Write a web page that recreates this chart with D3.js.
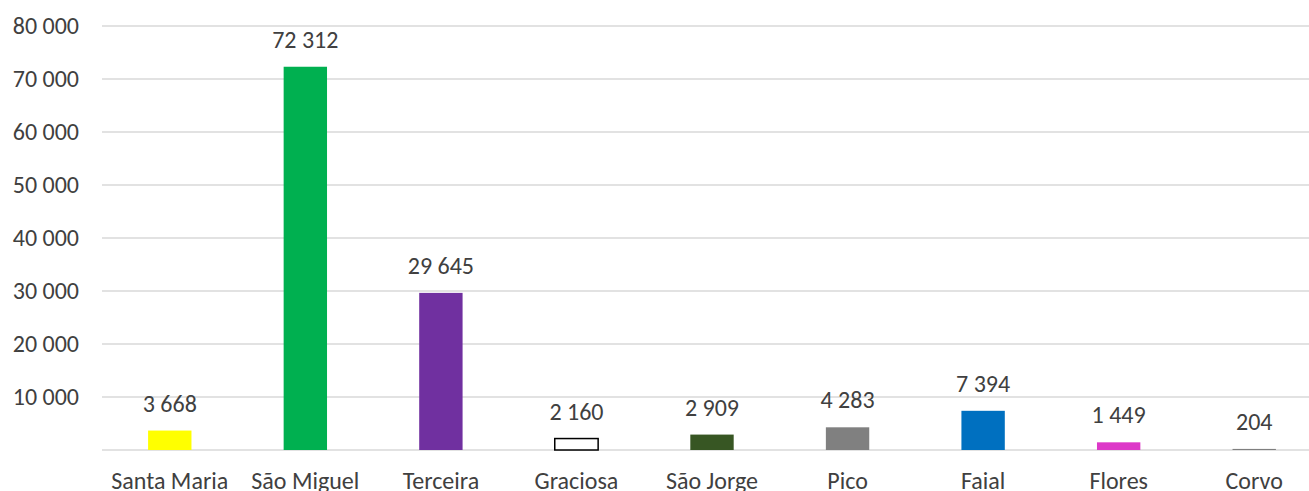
<!DOCTYPE html>
<html>
<head>
<meta charset="utf-8">
<script src="https://cdn.jsdelivr.net/npm/d3@7"></script>
<style>
  body { margin: 0; background: #fff; overflow: hidden; }
  text { font-family: Calibri, Carlito, "Open Sans", sans-serif; fill: #404040; }
</style>
</head>
<body>
<script>
const width = 1309,
  height = 491;

const margin = { top: 26, right: 0, bottom: 41, left: 102 };
const innerWidth = width - margin.left - margin.right;
const innerHeight = height - margin.top - margin.bottom;
// the plot area runs a little past the right edge of the picture
const bandRange = 1220;

// data
const islands = ["Santa Maria", "São Miguel", "Terceira", "Graciosa", "São Jorge", "Pico", "Faial", "Flores", "Corvo"];
const values = [3668, 72312, 29645, 2160, 2909, 4283, 7394, 1449, 204];
const barColors = ["#FFFF00", "#00B050", "#7030A0", "#FFFFFF", "#375623", "#808080", "#0070C0", "#DD38C8", "#7f7f7f"];
const yTicks = [10000, 20000, 30000, 40000, 50000, 60000, 70000, 80000];

const fmt = v => d3.format(",")(v).replace(/,/g, " ");
const fontSize = 24;

const data = islands.map((name, i) => ({ name, value: values[i], color: barColors[i] }));

const svg = d3
  .select("body")
  .append("svg")
  .attr("width", width)
  .attr("height", height);

const mainG = svg
  .append("g")
  .attr("transform", `translate(${margin.left}, ${margin.top})`);

const xScale = d3
  .scaleBand()
  .domain(islands)
  .range([0, bandRange])
  .paddingInner(0.68)
  .paddingOuter(0.34);

const yScale = d3
  .scaleLinear()
  .domain([0, 80000])
  .range([innerHeight, 0]);

// gridlines
mainG
  .append("g")
  .selectAll("line")
  .data([0].concat(yTicks))
  .enter()
  .append("line")
  .attr("x1", 0)
  .attr("x2", innerWidth)
  .attr("y1", d => yScale(d))
  .attr("y2", d => yScale(d))
  .attr("stroke", "#d9d9d9")
  .attr("stroke-width", 1.5);

// y axis labels
const yAxis = d3.axisLeft(yScale).tickValues(yTicks).tickFormat(fmt).tickSize(0).tickPadding(23);
const yG = mainG.append("g").attr("id", "y-axis").call(yAxis);
yG.select(".domain").remove();
yG.selectAll("text").attr("font-size", fontSize);
yG.attr("font-family", null);

// bars
mainG
  .append("g")
  .selectAll("rect")
  .data(data)
  .enter()
  .append("rect")
  .attr("x", d => xScale(d.name))
  .attr("width", xScale.bandwidth())
  .attr("y", d => yScale(d.value))
  .attr("height", d => innerHeight - yScale(d.value))
  .attr("fill", d => d.color)
  .attr("stroke", d => (d.name === "Graciosa" ? "#000" : "none"))
  .attr("stroke-width", 1.5);

// value labels
mainG
  .append("g")
  .selectAll("text")
  .data(data)
  .enter()
  .append("text")
  .attr("x", d => xScale(d.name) + xScale.bandwidth() / 2)
  .attr("y", d => yScale(d.value) - 19)
  .attr("text-anchor", "middle")
  .attr("font-size", fontSize)
  .text(d => fmt(d.value));

// x axis
const xAxis = d3.axisBottom(xScale).tickSize(0).tickPadding(22);
const xG = mainG
  .append("g")
  .attr("id", "x-axis")
  .attr("transform", `translate(0,${innerHeight})`)
  .call(xAxis);
xG.select(".domain").remove();
xG.selectAll("text").attr("font-size", fontSize);
xG.attr("font-family", null);
</script>
</body>
</html>
